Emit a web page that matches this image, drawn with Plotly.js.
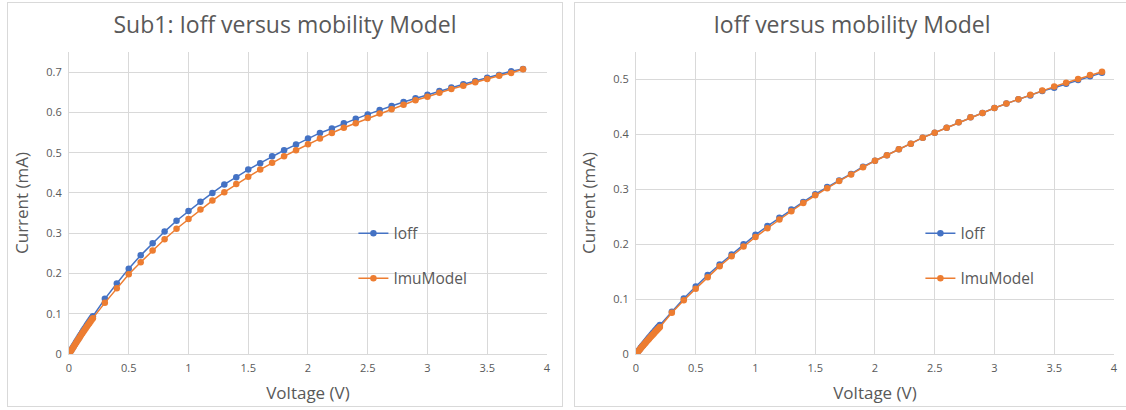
<!DOCTYPE html>
<html>
<head>
<meta charset="utf-8">
<script src="https://cdn.plot.ly/plotly-3.0.1.min.js"></script>
<style>
  html, body { margin: 0; padding: 0; background: #ffffff; overflow: hidden; width: 1126px; height: 410px; }
  .box { position: absolute; top: 2px; width: 556px; height: 405px; box-sizing: border-box; border: 1px solid #d9d9d9; background: #fff; }
  #left { left: 7px; }
  #right { left: 574px; }
  .plot { width: 554px; height: 403px; }
</style>
</head>
<body>
<div class="box" id="left"><div class="plot" id="chartLeft"></div></div>
<div class="box" id="right"><div class="plot" id="chartRight"></div></div>
<script>
// ---- Data ----
const titleLeft = "Sub1: Ioff versus mobility Model";
const titleRight = "Ioff versus mobility Model";
const seriesNames = ["Ioff", "ImuModel"];

const voltageLeft = [0, 0.01, 0.02, 0.03, 0.04, 0.05, 0.06, 0.07, 0.08, 0.09, 0.1,
  0.11, 0.12, 0.13, 0.14, 0.15, 0.16, 0.17, 0.18, 0.19, 0.2,
  0.3, 0.4, 0.5, 0.6, 0.7, 0.8, 0.9, 1.0, 1.1, 1.2, 1.3, 1.4, 1.5, 1.6, 1.7, 1.8, 1.9,
  2.0, 2.1, 2.2, 2.3, 2.4, 2.5, 2.6, 2.7, 2.8, 2.9, 3.0, 3.1, 3.2, 3.3, 3.4, 3.5, 3.6, 3.7, 3.8];

const ioffLeft = [0, 0.0050, 0.0100, 0.0149, 0.0198, 0.0247, 0.0296, 0.0344, 0.0392, 0.0440, 0.0487,
  0.0534, 0.0581, 0.0627, 0.0673, 0.0719, 0.0764, 0.0809, 0.0853, 0.0897, 0.0940,
  0.137, 0.175, 0.212, 0.245, 0.275, 0.304, 0.331, 0.355, 0.378, 0.400,
  0.421, 0.439, 0.458, 0.474, 0.491, 0.506, 0.520, 0.535, 0.549, 0.560,
  0.573, 0.584, 0.595, 0.606, 0.616, 0.626, 0.635, 0.644, 0.653, 0.662,
  0.670, 0.678, 0.686, 0.693, 0.702, 0.708];

const imuLeft = [0, 0.0048, 0.0095, 0.0142, 0.0189, 0.0236, 0.0282, 0.0328, 0.0374, 0.0419, 0.0464,
  0.0508, 0.0552, 0.0596, 0.0639, 0.0682, 0.0724, 0.0766, 0.0808, 0.0849, 0.0890,
  0.127, 0.163, 0.198, 0.228, 0.257, 0.285, 0.311, 0.335, 0.359, 0.381,
  0.402, 0.422, 0.440, 0.458, 0.475, 0.491, 0.506, 0.521, 0.535, 0.549,
  0.562, 0.573, 0.586, 0.597, 0.608, 0.619, 0.630, 0.639, 0.649, 0.658,
  0.666, 0.675, 0.683, 0.691, 0.698, 0.707];

const voltageRight = [0, 0.01, 0.02, 0.03, 0.04, 0.05, 0.06, 0.07, 0.08, 0.09, 0.1,
  0.11, 0.12, 0.13, 0.14, 0.15, 0.16, 0.17, 0.18, 0.19, 0.2,
  0.3, 0.4, 0.5, 0.6, 0.7, 0.8, 0.9, 1.0, 1.1, 1.2, 1.3, 1.4, 1.5, 1.6, 1.7, 1.8, 1.9,
  2.0, 2.1, 2.2, 2.3, 2.4, 2.5, 2.6, 2.7, 2.8, 2.9, 3.0, 3.1, 3.2, 3.3, 3.4, 3.5, 3.6, 3.7, 3.8, 3.9];

const ioffRight = [0, 0.0028, 0.0056, 0.0084, 0.0112, 0.0139, 0.0166, 0.0193, 0.0220, 0.0247, 0.0273,
  0.0299, 0.0325, 0.0351, 0.0377, 0.0402, 0.0427, 0.0452, 0.0477, 0.0502, 0.0527,
  0.077, 0.101, 0.123, 0.144, 0.163, 0.181, 0.200, 0.217, 0.233, 0.248,
  0.263, 0.277, 0.291, 0.304, 0.316, 0.328, 0.341, 0.352, 0.362, 0.373,
  0.383, 0.394, 0.403, 0.412, 0.422, 0.431, 0.439, 0.448, 0.456, 0.464,
  0.471, 0.479, 0.485, 0.492, 0.499, 0.506, 0.512];

const imuRight = [0, 0.0026, 0.0052, 0.0078, 0.0104, 0.0130, 0.0155, 0.0180, 0.0205, 0.0230, 0.0255,
  0.0279, 0.0303, 0.0327, 0.0351, 0.0375, 0.0399, 0.0422, 0.0445, 0.0468, 0.0491,
  0.075, 0.098, 0.119, 0.140, 0.160, 0.178, 0.196, 0.213, 0.229, 0.245,
  0.260, 0.275, 0.289, 0.302, 0.315, 0.327, 0.340, 0.352, 0.362, 0.373,
  0.383, 0.394, 0.403, 0.412, 0.422, 0.431, 0.439, 0.448, 0.456, 0.464,
  0.472, 0.480, 0.487, 0.494, 0.501, 0.508, 0.514];

// ---- Styling ----
const FONT = '"Open Sans", "Noto Sans", sans-serif';
const TEXT = '#595959';
const GRID = '#d9d9d9';
const BLUE = '#4472C4';
const ORANGE = '#ED7D31';

function makeChart(divId, title, volts, ioff, imu, yMax) {
  const traces = [
    { x: volts, y: ioff, name: seriesNames[0], type: 'scatter', mode: 'lines+markers',
      legendgroup: 'a',
      line: { color: BLUE, width: 1.5 }, marker: { color: BLUE, size: 6.5 } },
    { x: volts, y: imu, name: seriesNames[1], type: 'scatter', mode: 'lines+markers',
      legendgroup: 'b',
      line: { color: ORANGE, width: 1.5 }, marker: { color: ORANGE, size: 6.5 } }
  ];
  const layout = {
    width: 554, height: 403,
    margin: { l: 61, r: 15, t: 49, b: 52 },
    paper_bgcolor: '#ffffff', plot_bgcolor: '#ffffff',
    font: { family: FONT, color: TEXT, size: 11 },
    title: { text: title, x: 0.5, xref: 'container', y: 0.945, yref: 'container', yanchor: 'middle',
             font: { family: FONT, size: 23, color: TEXT } },
    xaxis: {
      range: [0, 4.0005], dtick: 0.5, tick0: 0,
      showgrid: true, gridcolor: GRID, gridwidth: 1,
      zeroline: false, showline: true, linecolor: GRID, linewidth: 1,
      ticks: '', ticklabelstandoff: 4, tickfont: { family: FONT, size: 11, color: TEXT },
      title: { text: 'Voltage (V)', font: { family: FONT, size: 17, color: TEXT }, standoff: 12 },
      fixedrange: true
    },
    yaxis: {
      range: [0, yMax], dtick: 0.1, tick0: 0,
      showgrid: true, gridcolor: GRID, gridwidth: 1,
      zeroline: false, showline: true, linecolor: GRID, linewidth: 1,
      ticks: '', ticklabelstandoff: 4, tickfont: { family: FONT, size: 11, color: TEXT },
      title: { text: 'Current (mA)', font: { family: FONT, size: 17, color: TEXT }, standoff: 13 },
      fixedrange: true
    },
    showlegend: true,
    legend: {
      x: 0.595, y: 0.455, xanchor: 'left', yanchor: 'top',
      bgcolor: 'rgba(0,0,0,0)', borderwidth: 0,
      traceorder: 'grouped', tracegroupgap: 22,
      font: { family: FONT, size: 15.5, color: TEXT }
    }
  };
  Plotly.newPlot(divId, traces, layout, { displayModeBar: false, staticPlot: true });
}

makeChart('chartLeft', titleLeft, voltageLeft, ioffLeft, imuLeft, 0.75);
makeChart('chartRight', titleRight, voltageRight, ioffRight, imuRight, 0.55);
</script>
</body>
</html>
